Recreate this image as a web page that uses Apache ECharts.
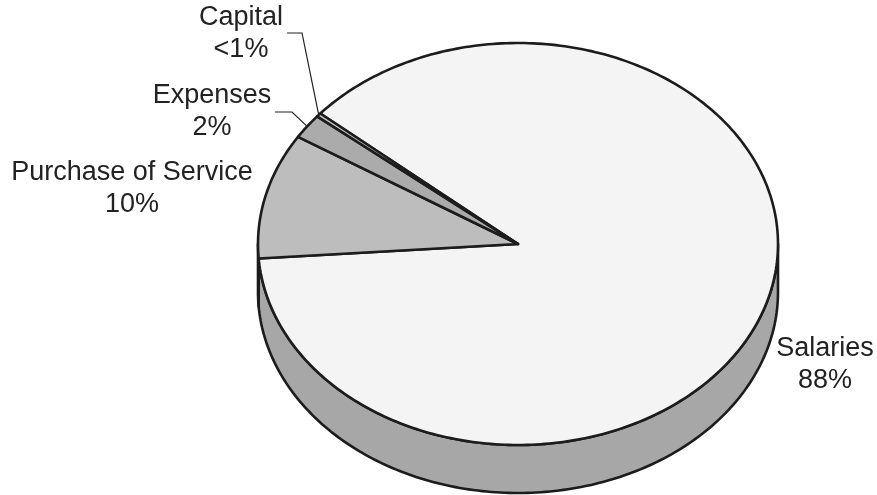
<!DOCTYPE html>
<html>
<head>
<meta charset="utf-8">
<script src="https://cdn.jsdelivr.net/npm/echarts@6/dist/echarts.min.js"></script>
<style>
  html, body { margin: 0; padding: 0; background: #fff; }
  #main { width: 877px; height: 495px; }
</style>
</head>
<body>
<div id="main"></div>
<script>
  // data
  var categories = ['Salaries', 'Purchase of Service', 'Expenses', 'Capital']
  var values = [87.6, 10.1, 2.0, 0.3]
  var percentLabels = ['88%', '10%', '2%', '<1%']

  // look of the tilted pie
  var pie = { cx: 518, cy: 244, rx: 260, ry: 201, depth: 48, startAngle: 139.5 }
  var topColors = ['#f4f4f4', '#bdbdbd', '#ababab', '#c6c6c6']
  var sideColors = ['#a7a7a7', '#8f8f8f', '#888888', '#999999']
  var edgeColor = '#1c1c1c'
  // label anchor (center x, top y) and leader start points
  var labelLayout = {
    'Salaries': [825, 333],
    'Purchase of Service': [132, 157],
    'Expenses': [212, 80],
    'Capital': [241, 2]
  }
  var leaderLayout = {
    'Expenses': [[275, 112], [292, 112]],
    'Capital': [[287, 33], [302, 33]]
  }

  var total = values.reduce(function (a, b) { return a + b }, 0)

  function pt(deg, dy) {
    var r = deg * Math.PI / 180
    return [pie.cx + pie.rx * Math.cos(r), pie.cy - pie.ry * Math.sin(r) + (dy || 0)]
  }

  function arc(from, to, dy) {
    var out = []
    var n = Math.max(2, Math.ceil(Math.abs(from - to)))
    for (var k = 0; k <= n; k++) {
      out.push(pt(from + (to - from) * k / n, dy))
    }
    return out
  }

  function renderItem(params, api) {
    var i = params.dataIndex
    var before = 0
    for (var j = 0; j < i; j++) before += values[j]
    var a0 = pie.startAngle - 360 * before / total
    var a1 = pie.startAngle - 360 * (before + api.value(0)) / total
    var children = []

    // side walls (front half only)
    for (var k = -2; k <= 2; k++) {
      var lo = Math.max(a1, -180 + 360 * k)
      var hi = Math.min(a0, 360 * k)
      if (hi > lo) {
        var pts = arc(lo, hi, 0).concat(arc(hi, lo, pie.depth))
        children.push({
          type: 'polygon',
          z2: 1,
          shape: { points: pts },
          style: { fill: sideColors[i], stroke: edgeColor, lineWidth: 2.6, lineJoin: 'round' }
        })
      }
    }

    // top wedge
    children.push({
      type: 'polygon',
      z2: 10,
      shape: { points: [[pie.cx, pie.cy]].concat(arc(a0, a1, 0)) },
      style: { fill: topColors[i], stroke: edgeColor, lineWidth: 2.6, lineJoin: 'round' }
    })

    // label
    var name = categories[i]
    var lp = labelLayout[name]
    children.push({
      type: 'text',
      z2: 20,
      style: {
        text: name + '\n' + percentLabels[i],
        x: lp[0],
        y: lp[1],
        align: 'center',
        verticalAlign: 'top',
        fill: '#222',
        fontSize: 27,
        lineHeight: 32,
        fontFamily: 'Liberation Sans, Arial, sans-serif'
      }
    })

    // leader line
    if (leaderLayout[name]) {
      children.push({
        type: 'polyline',
        z2: 20,
        shape: { points: leaderLayout[name].concat([pt((a0 + a1) / 2, 0)]) },
        style: { stroke: '#222', lineWidth: 1.2, fill: null }
      })
    }

    return { type: 'group', children: children }
  }

  var chart = echarts.init(document.getElementById('main'))
  chart.setOption({
    backgroundColor: '#fff',
    animation: false,
    series: [{
      type: 'custom',
      coordinateSystem: 'none',
      silent: true,
      renderItem: renderItem,
      data: values.map(function (v, i) { return { name: categories[i], value: [v] } })
    }]
  })
</script>
</body>
</html>
